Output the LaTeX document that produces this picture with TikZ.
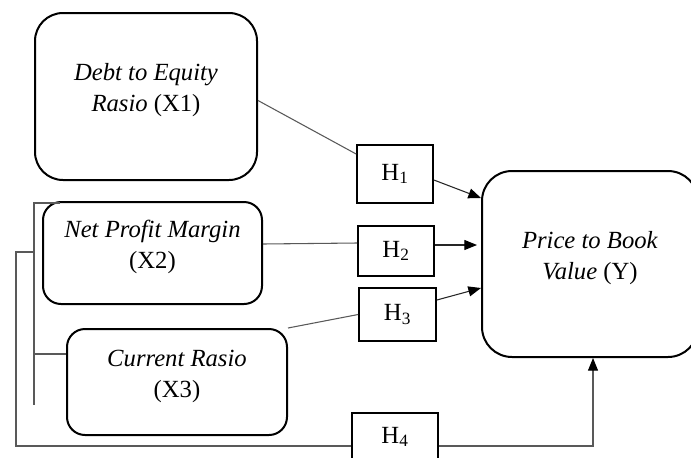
\documentclass[tikz,border=0pt]{standalone}
\usepackage{fontspec}
\setmainfont{Liberation Serif}
\usetikzlibrary{positioning,arrows.meta,calc}
\tikzset{
  varbox/.style={draw=black, line width=1.5pt, rounded corners=#1, align=center,
    font=\fontsize{18.5}{23.25}\selectfont, inner sep=0pt, text depth=13pt},
  hypbox/.style={draw=black, line width=1.3pt, inner sep=0pt,
    font=\fontsize{18.5}{22}\selectfont},
  link/.style={draw=black!65, line width=0.8pt},
  effect/.style={link, -{Triangle[length=9.5pt,width=7.5pt,black]}}
}
\begin{document}
\begin{tikzpicture}[x=0.75pt, y=-0.75pt]
  \useasboundingbox (0,0) rectangle (691,457);
  % variables
  \node[varbox=21pt, minimum width=166.5pt, minimum height=125.25pt] (X1) at (146,96.5)
    {\textit{Debt to Equity}\\\textit{Rasio} (X1)};
  \node[varbox=13.5pt, minimum width=164.25pt, minimum height=76.5pt] (X2) at (152.5,253)
    {\textit{Net Profit Margin}\\(X2)};
  \node[varbox=13.5pt, minimum width=165pt, minimum height=79.5pt] (X3) at (177,382)
    {\textit{Current Rasio}\\(X3)};
  \node[varbox=22.5pt, minimum width=162pt, minimum height=139.5pt] (Y) at (590,264)
    {\textit{Price to Book}\\\textit{Value} (Y)};
  %
  % hypotheses
  \node[hypbox, minimum width=57pt, minimum height=43.5pt] (H1) at (395,174) {H\textsubscript{1}};
  \node[hypbox, minimum width=57pt, minimum height=37.5pt] (H2) at (396,251) {H\textsubscript{2}};
  \node[hypbox, minimum width=57.75pt, minimum height=39.75pt] (H3) at (397.5,314.5) {H\textsubscript{3}};
  \node[hypbox, minimum width=64.5pt, minimum height=36pt] (H4) at (395,437) {H\textsubscript{4}};
  %
  \draw[link] ($(X1.east)+(0,4)$) -- ($(H1.west)+(0,-20)$);
  \draw[effect, draw=black!85] ($(H1.east)+(0,6)$) -- ($(Y.west)+(0,-66)$);
  \draw[link] ($(X2.east)+(0,-9)$) -- ($(H2.west)+(0,-8)$);
  \draw[effect, draw=black!85, shorten >=3pt] ($(H2.east)+(0,-6)$) -- ($(Y.west)+(0,-19)$);
  \draw[link] (X3.north east) -- (H3.west);
  \draw[effect, draw=black!85] ($(H3.east)+(0,-14.5)$) -- ($(Y.west)+(0,24)$);
  %
  % simultaneous path
  \coordinate (jTop) at (60,203);
  \coordinate (jMid) at (34,354);
  \coordinate (jBot) at (34,405);
  \coordinate (jOut) at (34,252);
  \coordinate (jLow) at (16,446);
  \coordinate (H4in) at ($(H4.west)+(0,9)$);
  \coordinate (H4out) at ($(H4.east)+(0,9)$);
  \draw[link] (jTop) -- (jTop -| jBot) -- (jBot);
  \draw[link] (jMid) -- (jMid -| X3.west);
  \draw[link] (jOut) -- (jOut -| jLow) -- (jLow) -- (H4in);
  \draw[effect] (H4out) -- ($(H4out -| Y.south)+(3,0)$) -- ($(Y.south)+(3,0)$);
\end{tikzpicture}
\end{document}
